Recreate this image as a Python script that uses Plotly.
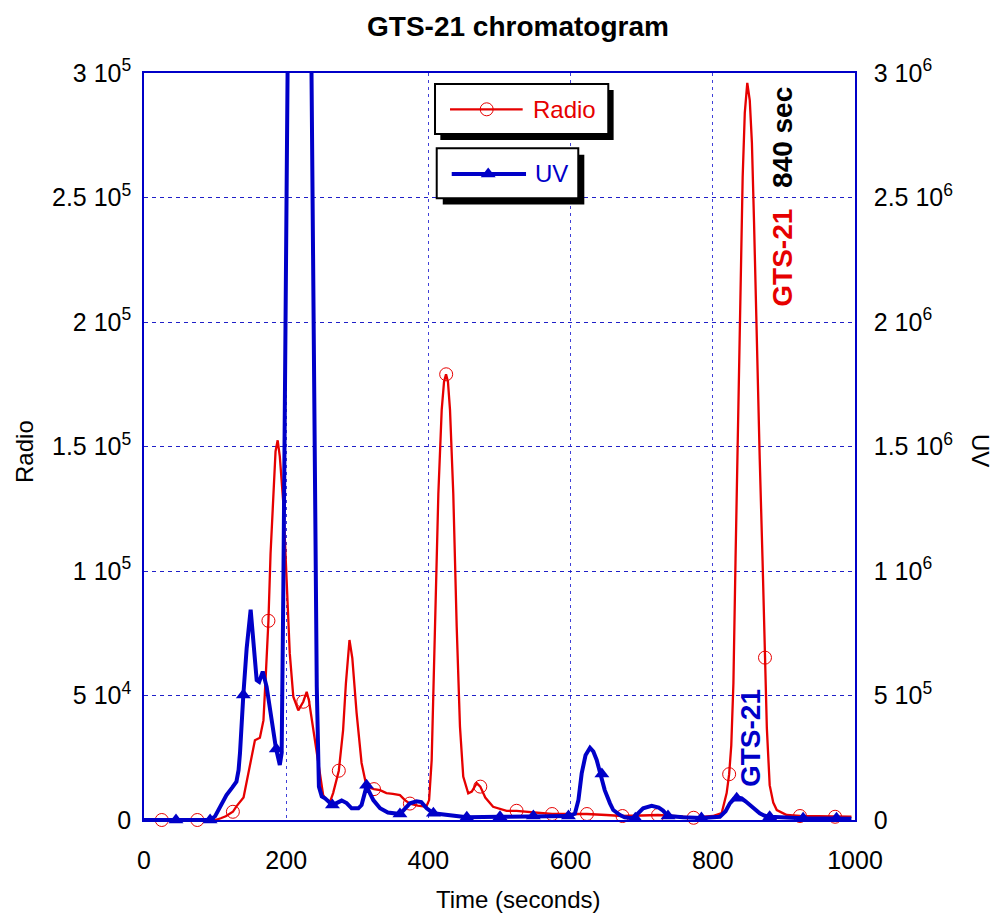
import plotly.graph_objects as go

# ---------------- data ----------------
radio_t = [0, 25, 75, 100, 108, 115, 125, 130, 140, 149, 156, 163, 168, 171.6, 175, 178, 182, 185, 188,
           191, 196, 200.7, 205, 210, 217, 224, 228.8, 232, 236, 243, 247.5, 252, 257, 261.6, 266, 274,
           280, 284, 289, 293, 299, 306, 313, 323.5, 332, 341, 350, 360, 367, 374, 385, 397, 401, 404.6,
           409.3, 414, 418.7, 422, 424.8, 427.5, 430.4, 435, 439.8, 444.4, 449, 456, 461, 468, 473, 480,
           491, 510, 524, 550, 574, 600, 623, 650, 673, 700, 723, 750, 773, 800, 812.5, 819.5, 823, 826,
           829, 832, 836, 839, 842, 845, 848.5, 852, 855, 858, 862, 866, 870, 873.4, 876, 880, 885, 890,
           904, 922.6, 950, 972, 995]
radio_v = [0, 0, 0, 0, 700, 1500, 3300, 5500, 9000, 21400, 32000, 33000, 40000, 60000, 80000, 107000,
           134000, 148000, 152500, 146000, 127000, 93700, 67000, 49500, 44000, 47500, 51500, 48000, 40000,
           26800, 18700, 10000, 8000, 7300, 10800, 19800, 36000, 55000, 72300, 65000, 43000, 22900, 13400,
           12400, 12000, 10800, 10500, 10000, 8000, 6600, 5800, 5300, 8000, 24000, 77600, 131000, 164700,
           176000, 179000, 176000, 164700, 131000, 77600, 37500, 17400, 10700, 11400, 14800, 13400, 9000,
           5300, 3700, 3700, 3000, 2400, 2400, 2400, 2000, 1600, 1800, 2000, 1500, 900, 1600, 2800, 10800,
           18400, 30000, 55000, 105000, 170000, 215000, 258000, 284000, 296000, 289000, 272000, 240000,
           190000, 145000, 104000, 65200, 37000, 14000, 7000, 4000, 2000, 1600, 1400, 1300, 1300]

radio_mark_t = [25, 75, 125, 175, 224, 274, 323.5, 374, 425, 473, 524, 574, 623, 673, 723, 773, 823,
                873.4, 922.6, 972]
radio_mark_v = [0, 0, 3300, 80000, 47500, 19800, 12400, 6600, 179000, 13400, 3700, 2400, 2400, 1600,
                2000, 900, 18400, 65200, 1600, 1300]

uv_t = [0, 45, 93, 100, 107, 116, 124, 130, 133, 135, 139.7, 144.4, 150, 154.7, 158.5, 162, 167, 172.5,
        179.6, 185.6, 191, 193.6, 196, 198.3, 200.5, 202.5, 210, 228, 235, 237, 239, 243, 246, 250,
        254.6, 265, 278, 285, 292, 301.5, 306, 313, 322.5, 332, 343, 360, 374, 383.5, 390, 397.6, 407,
        425, 454, 500, 547, 597, 606, 611, 615.6, 621, 627.3, 632, 636.7, 642, 648, 655.4, 660, 669.5,
        676, 688, 695, 702, 714, 724, 730, 737, 758, 784, 810, 818, 824, 830, 836, 840.6, 846, 852.7,
        860, 866, 873, 880, 927, 974, 995]
uv_v = [0, 0, 0, 15000, 53000, 100000, 130000, 154000, 200000, 269000, 502000, 690000, 845000, 690000,
        562000, 555000, 596000, 535000, 402000, 288000, 221000, 269000, 937000, 1700000, 2500000, 3200000,
        5000000, 5000000, 3200000, 2490000, 1606000, 535000, 134000, 95000, 87000, 60000, 78000, 68000,
        47000, 47000, 60000, 135000, 80000, 47000, 30000, 24000, 67000, 75000, 72000, 47000, 27000,
        20000, 11000, 13000, 16000, 16000, 25000, 80000, 187000, 260000, 290000, 275000, 241000, 178000,
        120000, 67000, 40000, 20000, 11000, 7000, 25000, 47000, 57000, 50000, 38000, 16000, 11000, 8000,
        13000, 35000, 67000, 85000, 90000, 87000, 75000, 60000, 40000, 27000, 17000, 13000, 7000, 7000,
        5000]

uv_mark_t = [45, 93, 139.7, 186, 265, 313, 360, 407, 454, 500.7, 547.6, 597, 644, 691, 737, 784, 833.6,
             880, 927, 974]
uv_mark_v = [0, 0, 502000, 285000, 60000, 140000, 24000, 27000, 11000, 13000, 16000, 16000, 185000,
             7000, 16000, 8000, 87000, 13000, 7000, 7000]

x_ticks = [0, 200, 400, 600, 800, 1000]
left_ticks = [0, 50000, 100000, 150000, 200000, 250000, 300000]
left_ticktext = ["0", "5 10<sup>4</sup>", "1 10<sup>5</sup>", "1.5 10<sup>5</sup>", "2 10<sup>5</sup>",
                 "2.5 10<sup>5</sup>", "3 10<sup>5</sup>"]
right_ticks = [0, 500000, 1000000, 1500000, 2000000, 2500000, 3000000]
right_ticktext = ["0", "5 10<sup>5</sup>", "1 10<sup>6</sup>", "1.5 10<sup>6</sup>", "2 10<sup>6</sup>",
                  "2.5 10<sup>6</sup>", "3 10<sup>6</sup>"]

RED = "#e60000"
BLUE = "#0000c8"
FONT = "Liberation Sans, Arial, sans-serif"

XR = 1000.0     # x range of the plot
YR = 300000.0   # left y range

fig = go.Figure()
fig.add_trace(go.Scatter(x=radio_t, y=radio_v, mode="lines", line=dict(color=RED, width=2.3),
                         name="Radio", showlegend=False, hoverinfo="skip"))
fig.add_trace(go.Scatter(x=radio_mark_t, y=radio_mark_v, mode="markers",
                         marker=dict(symbol="circle-open", size=13, color=RED, line=dict(width=1)),
                         showlegend=False, cliponaxis=False))
fig.add_trace(go.Scatter(x=uv_t, y=uv_v, mode="lines", line=dict(color=BLUE, width=4), yaxis="y2",
                         name="UV", showlegend=False))
fig.add_trace(go.Scatter(x=uv_mark_t, y=uv_mark_v, mode="markers", yaxis="y2",
                         marker=dict(symbol="triangle-up", size=13, color=BLUE),
                         showlegend=False, cliponaxis=False))

# legend symbols (fractions of the plot area, mapped to main axes)
fig.add_trace(go.Scatter(x=[0.4820 * XR], y=[0.9514 * YR], mode="markers",
                         marker=dict(symbol="circle-open", size=13, color=RED, line=dict(width=1)),
                         showlegend=False, hoverinfo="skip"))
fig.add_trace(go.Scatter(x=[0.4841 * XR], y=[0.8648 * YR], mode="markers",
                         marker=dict(symbol="triangle-up", size=13, color=BLUE), showlegend=False,
                         hoverinfo="skip"))

shapes = []
def legend_box(x0, x1, y0, y1, dx, dy):
    shapes.append(dict(type="rect", xref="x", yref="y", x0=(x0 + dx) * XR, x1=(x1 + dx) * XR,
                       y0=(y0 - dy) * YR, y1=(y1 - dy) * YR,
                       fillcolor="black", line=dict(width=0), layer="between"))
    shapes.append(dict(type="rect", xref="x", yref="y", x0=x0 * XR, x1=x1 * XR, y0=y0 * YR, y1=y1 * YR,
                       fillcolor="white", line=dict(color="black", width=2), layer="between"))

legend_box(0.4093, 0.6530, 0.9183, 0.9853, 0.0075, 0.0080)
shapes.append(dict(type="line", xref="x", yref="y", x0=0.4304 * XR, x1=0.5326 * XR,
                   y0=0.9514 * YR, y1=0.9514 * YR, line=dict(color=RED, width=2.3), layer="between"))
legend_box(0.4117, 0.6108, 0.8323, 0.8992, 0.0085, 0.0085)
shapes.append(dict(type="line", xref="x", yref="y", x0=0.4328 * XR, x1=0.5373 * XR,
                   y0=0.8648 * YR, y1=0.8648 * YR, line=dict(color=BLUE, width=4), layer="between"))

def ann(text, x, y, size=24, color="black", angle=0, xref="paper", yref="paper", xanchor="center"):
    return dict(text=text, x=x, y=y, xref=xref, yref=yref, xanchor=xanchor, yanchor="middle",
                textangle=angle, showarrow=False, font=dict(size=size, color=color, family=FONT))

annotations = [
    ann("Radio", 0.5443 * XR, 0.9514 * YR, color=RED, xref="x", yref="y", xanchor="left"),
    ann("UV", 0.5476 * XR, 0.8648 * YR, color=BLUE, xref="x", yref="y", xanchor="left"),
    ann("<b>GTS-21 chromatogram</b>", 0.526, 1.0616, size=28),
    ann("Time (seconds)", 0.526, -0.107),
    ann("Radio", -0.1674, 0.494, angle=-90),
    ann("UV", 1.1758, 0.494, angle=90),
    ann("<b>840 sec</b>", 0.898, 0.9137, size=28, angle=-90),
    ann("<b>GTS-21</b>", 0.8969, 0.7523, size=28, color=RED, angle=-90),
    ann("<b>GTS-21</b>", 0.8534, 0.1094, size=28, color=BLUE, angle=-90),
]

fig.update_layout(
    width=994, height=915,
    margin=dict(l=144, r=139, t=73, b=95),
    paper_bgcolor="white", plot_bgcolor="white",
    font=dict(family=FONT, size=24, color="black"),
    showlegend=False,
    xaxis=dict(range=[0, XR], tickvals=x_ticks, ticktext=[str(v) for v in x_ticks],
               showgrid=True, gridcolor="#4040d8", griddash="3px,4px", gridwidth=1,
               showline=True, linecolor=BLUE, linewidth=1.5, mirror=True, zeroline=False,
               ticks="", ticklabelstandoff=17, tickfont=dict(size=25)),
    yaxis=dict(range=[0, YR], tickvals=left_ticks, ticktext=left_ticktext,
               showgrid=True, gridcolor="#2020c8", griddash="4px,4px", gridwidth=1,
               showline=True, linecolor=BLUE, linewidth=1.5, mirror=True, zeroline=False,
               ticks="", ticklabelstandoff=6, tickfont=dict(size=25)),
    yaxis2=dict(range=[0, 3000000], tickvals=right_ticks, ticktext=right_ticktext, overlaying="y",
                side="right", showgrid=False, zeroline=False, showline=True, linecolor=BLUE,
                linewidth=1.5, ticks="", ticklabelstandoff=12, tickfont=dict(size=25)),
    shapes=shapes,
    annotations=annotations,
)

fig.write_html("out.html")
